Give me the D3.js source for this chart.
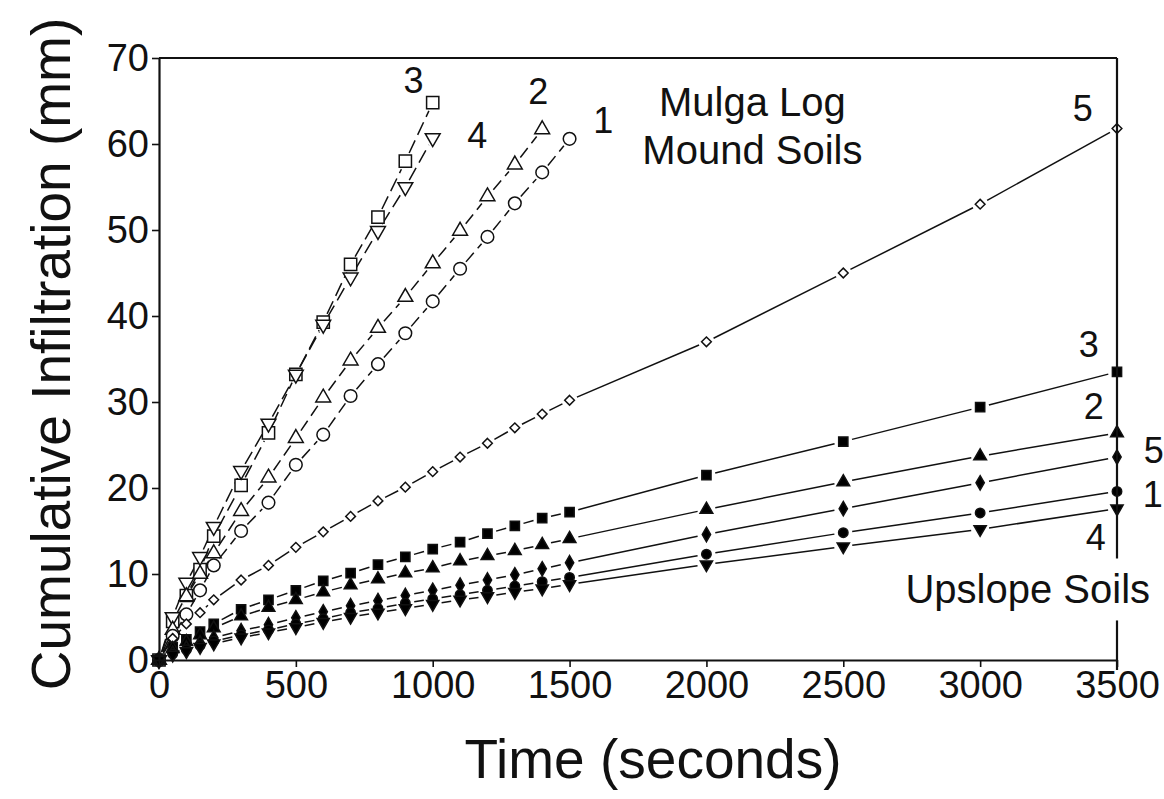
<!DOCTYPE html>
<html>
<head>
<meta charset="utf-8">
<script src="https://cdnjs.cloudflare.com/ajax/libs/d3/7.8.5/d3.min.js"></script>
<style>
  body { margin: 0; background: #fff; }
  text { font-family: "Liberation Sans", Arial, sans-serif; fill: #111; }
</style>
</head>
<body>
<div id="chart-area"></div>
<script>
// sampling times (seconds); mound runs stop early
let times = [0, 50, 100, 150, 200, 300, 400, 500, 600, 700, 800, 900, 1000,
             1100, 1200, 1300, 1400, 1500, 2000, 2500, 3000, 3500];

// Mulga log mound soils (mm)
let mound3 = [0, 4.5, 7.5, 10.5, 14.4, 20.3, 26.4, 33.2, 39.3, 46.0, 51.5, 58.0, 64.8];
let mound4 = [0, 5.0, 9.0, 12.0, 15.5, 22.0, 27.5, 33.2, 39.0, 44.5, 49.9, 55.0, 60.7];
let mound2 = [0, 3.5, 7.4, 10.0, 12.4, 17.3, 21.2, 25.8, 30.5, 34.8, 38.6, 42.2, 46.1,
              49.9, 53.9, 57.6, 61.7];
let mound1 = [0, 2.8, 5.3, 8.1, 11.0, 15.0, 18.3, 22.7, 26.2, 30.7, 34.4, 38.0, 41.7,
              45.5, 49.2, 53.1, 56.7, 60.6];
let mound5 = [0, 2.5, 4.2, 5.5, 7.0, 9.3, 11.0, 13.1, 14.9, 16.7, 18.5, 20.1, 21.9,
              23.6, 25.2, 27.0, 28.6, 30.2, 37.0, 45.0, 53.0, 61.8];

// upslope soils (mm)
let upslope3 = [0, 1.5, 2.4, 3.3, 4.2, 5.9, 7.0, 8.1, 9.2, 10.1, 11.1, 12.0, 12.9,
                13.7, 14.7, 15.6, 16.5, 17.2, 21.5, 25.4, 29.4, 33.5];
let upslope2 = [0, 1.3, 2.1, 2.9, 3.7, 5.1, 6.1, 7.0, 7.9, 8.7, 9.4, 10.1, 10.7,
                11.5, 12.1, 12.7, 13.4, 14.1, 17.5, 20.7, 23.7, 26.4];
let upslope5 = [0, 0.8, 1.4, 2.0, 2.6, 3.4, 4.1, 4.9, 5.6, 6.3, 6.9, 7.5, 8.1,
                8.7, 9.3, 9.9, 10.6, 11.3, 14.6, 17.6, 20.6, 23.6];
let upslope1 = [0, 0.7, 1.2, 1.7, 2.2, 2.9, 3.5, 4.2, 4.8, 5.5, 6.0, 6.6, 7.1,
                7.6, 8.1, 8.6, 9.1, 9.6, 12.3, 14.8, 17.1, 19.6];
let upslope4 = [0, 0.6, 1.0, 1.5, 1.9, 2.6, 3.2, 3.8, 4.4, 5.0, 5.5, 6.0, 6.5,
                7.0, 7.4, 7.9, 8.3, 8.8, 11.1, 13.2, 15.2, 17.6];

let xTicks = [0, 500, 1000, 1500, 2000, 2500, 3000, 3500];
let yTicks = [0, 10, 20, 30, 40, 50, 60, 70];

let width = 1164;
let height = 799;

let svg = d3.select("#chart-area")
            .append("svg")
            .attr("width", width)
            .attr("height", height);

let x = d3.scaleLinear().domain([0, 3500]).range([159, 1117]);
let y = d3.scaleLinear().domain([0, 70]).range([660, 58]);

// marker style for each run
let series = [
    {values: mound3, shape: d3.symbolSquare, size: 150, fill: "#fff", rot: 0, dash: "14,6", gap: 9},
    {values: mound4, shape: d3.symbolTriangle, size: 95, fill: "#fff", rot: 180, dash: "14,6", gap: 8},
    {values: mound2, shape: d3.symbolTriangle, size: 95, fill: "#fff", rot: 0, dash: "12,6", gap: 9},
    {values: mound1, shape: d3.symbolCircle, size: 125, fill: "#fff", rot: 0, dash: "12,6", gap: 9},
    {values: mound5, shape: d3.symbolDiamond2, size: 60, fill: "#fff", rot: 0, dash: null, gap: 8},
    {values: upslope3, shape: d3.symbolSquare, size: 85, fill: "#000", rot: 0, dash: null, gap: 9},
    {values: upslope2, shape: d3.symbolTriangle, size: 70, fill: "#000", rot: 0, dash: null, gap: 9},
    {values: upslope5, shape: d3.symbolDiamond, size: 60, fill: "#000", rot: 0, dash: null, gap: 9},
    {values: upslope1, shape: d3.symbolCircle, size: 70, fill: "#000", rot: 0, dash: null, gap: 9},
    {values: upslope4, shape: d3.symbolTriangle, size: 65, fill: "#000", rot: 180, dash: null, gap: 9}
];

series.forEach(function(s){
    s.points = s.values.map(function(v, i){ return {t: times[i], v: v}; });
});

// lines are broken at every marker, like the original plot
let lines = svg.append("g")
               .attr("stroke", "#111")
               .attr("stroke-width", 1.5)
               .attr("fill", "none");

series.forEach(function(s){
    let segs = d3.pairs(s.points).map(function(p){
        let x1 = x(p[0].t), y1 = y(p[0].v), x2 = x(p[1].t), y2 = y(p[1].v);
        let len = Math.hypot(x2 - x1, y2 - y1);
        let k = s.gap / len;
        return {x1: x1 + (x2 - x1) * k, y1: y1 + (y2 - y1) * k,
                x2: x2 - (x2 - x1) * k, y2: y2 - (y2 - y1) * k,
                ok: len > 2 * s.gap + 2, late: p[1].t > 1500};
    }).filter(function(d){ return d.ok; });

    lines.selectAll(null)
         .data(segs)
         .enter()
         .append("line")
         .attr("x1", function(d){ return d.x1; })
         .attr("y1", function(d){ return d.y1; })
         .attr("x2", function(d){ return d.x2; })
         .attr("y2", function(d){ return d.y2; })
         .attr("stroke-dasharray", function(d){ return d.late ? null : s.dash; });
});

series.forEach(function(s){
    svg.append("g")
       .selectAll("path")
       .data(s.points)
       .enter()
       .append("path")
       .attr("d", d3.symbol().type(s.shape).size(s.size))
       .attr("transform", function(d){
           return "translate(" + x(d.t) + "," + y(d.v) + ") rotate(" + s.rot + ")";
       })
       .attr("fill", s.fill)
       .attr("stroke", "#111")
       .attr("stroke-width", 1.5);
});

// axes
let xAxis = svg.append("g")
               .attr("transform", "translate(0," + y(0) + ")")
               .call(d3.axisBottom(x).tickValues(xTicks).tickFormat(d3.format("d"))
                       .tickSize(7).tickSizeOuter(0).tickPadding(4));

let yAxis = svg.append("g")
               .attr("transform", "translate(" + x(0) + ",0)")
               .call(d3.axisLeft(y).tickValues(yTicks).tickFormat(d3.format("d"))
                       .tickSize(7).tickSizeOuter(0).tickPadding(3));

[xAxis, yAxis].forEach(function(a){
    a.select(".domain").attr("stroke", "#111").attr("stroke-width", 2.2);
    a.selectAll(".tick line").attr("stroke", "#111").attr("stroke-width", 1.6);
    a.selectAll(".tick text")
     .style("font-family", "'Liberation Sans', Arial, sans-serif")
     .style("font-size", "38px")
     .attr("fill", "#111");
});

// frame: top edge and right edge (right edge broken for the label)
let frame = svg.append("g").attr("stroke", "#111").attr("stroke-width", 2.2);
frame.append("line")
     .attr("x1", x(0)).attr("x2", x(3500))
     .attr("y1", y(70)).attr("y2", y(70));
frame.append("line")
     .attr("x1", x(3500)).attr("x2", x(3500))
     .attr("y1", y(70)).attr("y2", y(11.8));
frame.append("line")
     .attr("x1", x(3500)).attr("x2", x(3500))
     .attr("y1", y(4.6)).attr("y2", y(0) + 10);

// series numbers and group names, placed in data units
let annotations = [
    {text: "3", t: 930, v: 67.4, size: 36},
    {text: "4", t: 1163, v: 61.0, size: 36},
    {text: "2", t: 1386, v: 66.2, size: 36},
    {text: "1", t: 1623, v: 62.8, size: 36},
    {text: "5", t: 3375, v: 64.2, size: 36},
    {text: "Mulga Log", t: 2168, v: 64.9, size: 40},
    {text: "Mound Soils", t: 2168, v: 59.4, size: 40},
    {text: "3", t: 3397, v: 36.7, size: 36},
    {text: "2", t: 3415, v: 29.5, size: 36},
    {text: "5", t: 3634, v: 24.4, size: 36},
    {text: "1", t: 3631, v: 19.3, size: 36},
    {text: "4", t: 3422, v: 14.3, size: 36},
    {text: "Upslope Soils", t: 3174, v: 8.3, size: 40}
];

svg.append("g")
   .selectAll("text")
   .data(annotations)
   .enter()
   .append("text")
   .attr("x", function(d){ return x(d.t); })
   .attr("y", function(d){ return y(d.v); })
   .attr("dy", "0.36em")
   .attr("text-anchor", "middle")
   .style("font-size", function(d){ return d.size + "px"; })
   .text(function(d){ return d.text; });

// axis titles
svg.append("text")
   .attr("x", 653)
   .attr("y", 778)
   .attr("text-anchor", "middle")
   .style("font-size", "55px")
   .text("Time (seconds)");

svg.append("text")
   .attr("transform", "translate(70,354) rotate(-90)")
   .attr("text-anchor", "middle")
   .style("font-size", "55px")
   .text("Cumulative Infiltration (mm)");
</script>
</body>
</html>
